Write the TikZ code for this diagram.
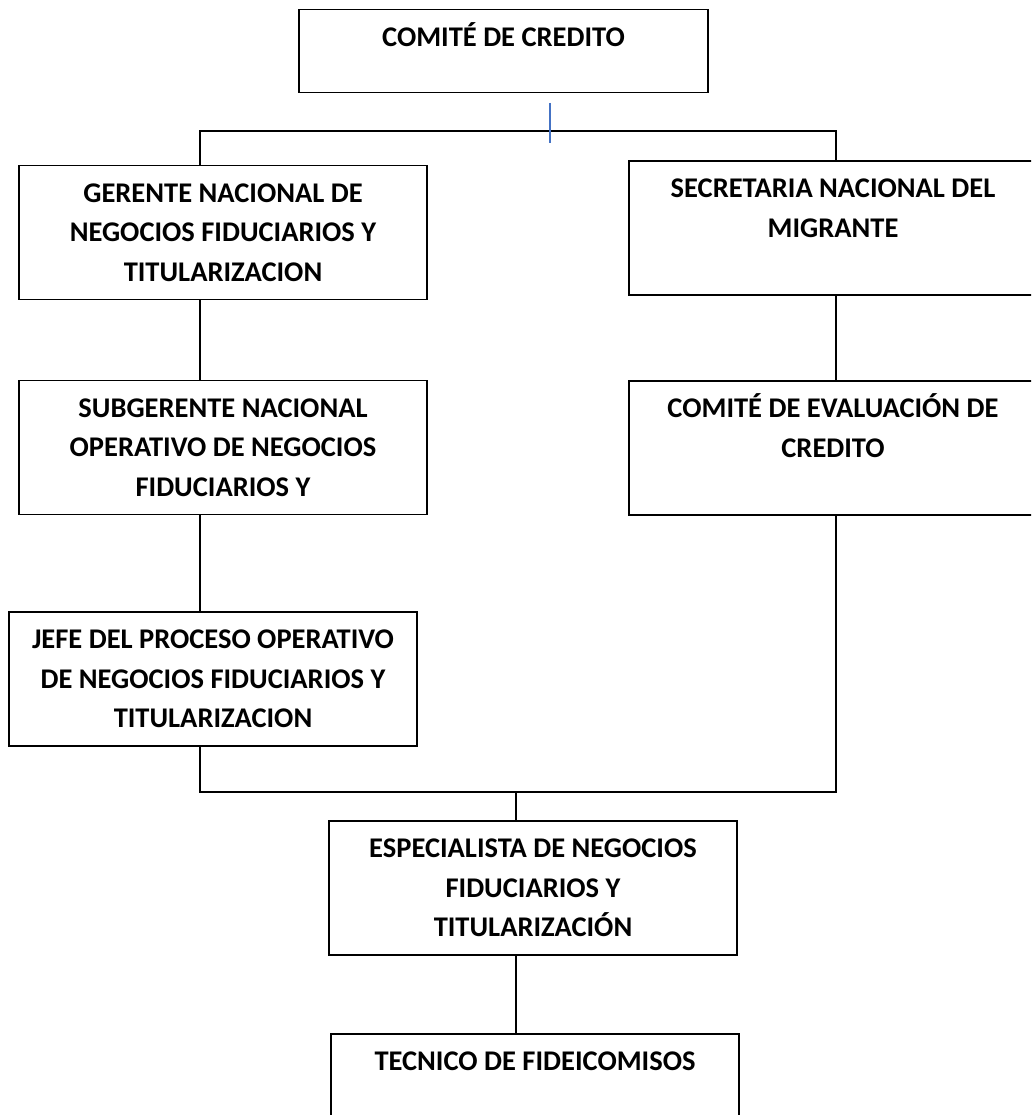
\documentclass[tikz,border=0pt]{standalone}
\usepackage{fontspec}
\setmainfont{Carlito}
\definecolor{wordblue}{HTML}{4472C4}
\begin{document}
\begin{tikzpicture}[x=1pt,y=-1pt,
  unit/.style={draw=black, line width=1.4pt, minimum width=408pt, minimum height=134pt, inner sep=0pt},
  caption/.style={anchor=north, inner sep=0pt, align=center, font=\bfseries\fontsize{28.5}{39.5}\selectfont},
  link/.style={draw=black, line width=1.5pt},
  mark line/.style={draw=wordblue, line width=1.4pt}]
\useasboundingbox (0,0) rectangle (1031,1115);
\fill[white] (0,0) rectangle (1031,1115);
\clip (0,0) rectangle (1031,1115);

% boxes
\node[unit, minimum width=409pt, minimum height=83pt] (com) at (503.5,51) {};
\node[unit] (ger) at (223,232.5) {};
\node[unit] (sec) at (833,228) {};
\node[unit] (sub) at (223,447.5) {};
\node[unit] (eva) at (833,448) {};
\node[unit] (jef) at (213,679) {};
\node[unit] (esp) at (533,888) {};
\node[unit] (tec) at (535,1101) {};

% captions, first baseline 37pt under the top edge
\newcommand{\firstline}{\rule{0pt}{28.5pt}}
\node[caption] (comT) at ([yshift=-9.5pt]com.north) {\firstline COMITÉ DE CREDITO};
\node[caption] (gerT) at ([yshift=-8.5pt]ger.north) {\firstline GERENTE NACIONAL DE\\NEGOCIOS FIDUCIARIOS Y\\TITULARIZACION};
\node[caption] (secT) at ([yshift=-8.5pt]sec.north) {\firstline SECRETARIA NACIONAL DEL\\MIGRANTE};
\node[caption] (subT) at ([yshift=-8.5pt]sub.north) {\firstline SUBGERENTE NACIONAL\\OPERATIVO DE NEGOCIOS\\FIDUCIARIOS Y};
\node[caption] (evaT) at ([yshift=-8.5pt]eva.north) {\firstline COMITÉ DE EVALUACIÓN DE\\CREDITO};
\node[caption] (jefT) at ([yshift=-8.5pt]jef.north) {\firstline JEFE DEL PROCESO OPERATIVO\\DE NEGOCIOS FIDUCIARIOS Y\\TITULARIZACION};
\node[caption] (espT) at ([yshift=-8.5pt]esp.north) {\firstline ESPECIALISTA DE NEGOCIOS\\FIDUCIARIOS Y\\TITULARIZACIÓN};
\node[caption] (tecT) at ([yshift=-8.5pt]tec.north) {\firstline TECNICO DE FIDEICOMISOS};

% bus points
\coordinate (tl) at (200,131);
\coordinate (tr) at (836,131);
\coordinate (bl) at (200,792);
\coordinate (br) at (836,792);
\coordinate (bm) at (516,792);
\coordinate (mTop) at (550,103);
\coordinate (mBot) at (550,143);

% connectors
\draw[link] (ger.north -| tl) -- (tl) -- (tr) -- (sec.north -| tr);
\draw[link] (ger.south -| tl) -- (sub.north -| tl);
\draw[link] (sub.south -| tl) -- (jef.north -| tl);
\draw[link] (jef.south -| tl) -- (bl) -- (br) -- (eva.south -| tr);
\draw[link] (sec.south -| tr) -- (eva.north -| tr);
\draw[link] (bm) -- (esp.north -| bm);
\draw[link] (esp.south -| bm) -- (tec.north -| bm);
\draw[mark line] (mTop) -- (mBot);
\end{tikzpicture}
\end{document}
